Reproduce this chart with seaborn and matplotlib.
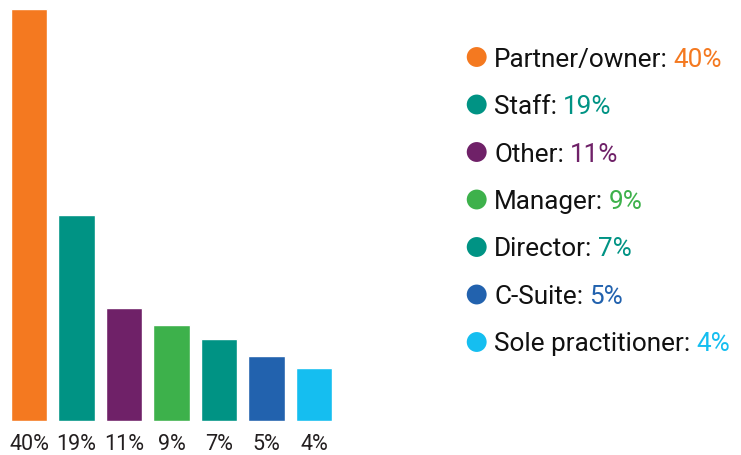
import matplotlib
matplotlib.use("Agg")
import matplotlib.pyplot as plt
import seaborn as sns
import pandas as pd

# Data
roles = ['Partner/owner', 'Staff', 'Other', 'Manager', 'Director', 'C-Suite', 'Sole practitioner']
shares = [40, 19, 11, 9, 7, 5, 4]
# bar heights as drawn in the picture (in % units)
bar_heights = [40, 20.0, 11.0, 9.3, 8.0, 6.3, 5.1]
colors = ['#F47920', '#009384', '#6F2168', '#3DB14B', '#009384', '#2262AE', '#15BEF0']

df = pd.DataFrame({'role': roles, 'share': shares, 'height': bar_heights})

sns.set_theme(style='white')
plt.rcParams['font.family'] = ['Roboto', 'DejaVu Sans']

W, H = 741, 455
fig = plt.figure(figsize=(W / 100, H / 100), dpi=100)

# bar panel
ax = fig.add_axes([5.25 / W, 34 / H, 332.5 / W, 412 / H])
sns.barplot(data=df, x='role', y='height', hue='role', palette=colors,
            legend=False, width=0.76, saturation=1, ax=ax)
ax.set_ylim(0, 40)
ax.set_xlim(-0.5, len(roles) - 0.5)
ax.set_xticks(range(len(roles)))
ax.set_xticklabels([f'{s}%' for s in shares], fontsize=15.5, color='#231f20')
ax.tick_params(axis='x', length=0, pad=9.5)
ax.set_yticks([])
ax.set_xlabel('')
ax.set_ylabel('')
sns.despine(ax=ax, left=True, bottom=True)

# legend panel
lx0 = 460
lax = fig.add_axes([lx0 / W, (H - 365.75) / H, (W - lx0) / W, 332.5 / H])
lax.set_xlim(0, 1)
lax.set_ylim(len(roles) - 0.5, -0.5)
lax.axis('off')
lax.scatter([(476.7 - lx0) / (W - lx0)] * len(roles), range(len(roles)),
            s=205, c=colors, linewidths=0)
for i, (r, s, c) in enumerate(zip(roles, shares, colors)):
    t = lax.text((494 - lx0) / (W - lx0), i, f'{r}:', fontsize=18.8,
                 color='#111111', va='center_baseline', ha='left')
    lax.annotate(f'{s}%', xy=(1, 0), xycoords=t, xytext=(4.3, 0),
                 textcoords='offset points', fontsize=18.8, color=c,
                 va='bottom', ha='left')

fig.savefig('out.png', dpi=100)
